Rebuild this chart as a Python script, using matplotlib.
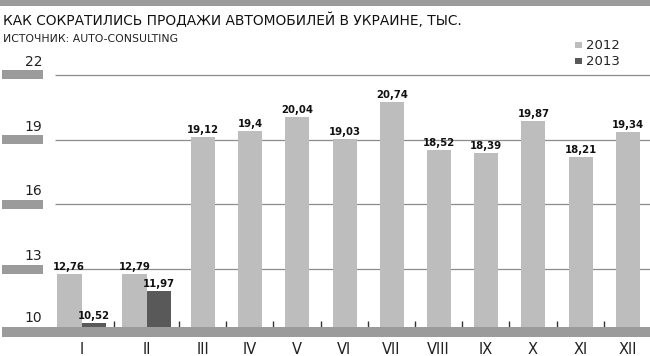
import matplotlib
matplotlib.use("Agg")
import matplotlib.pyplot as plt
from matplotlib.patches import Rectangle

# ── данные ─────────────────────────────────────────────
months = ["I", "II", "III", "IV", "V", "VI", "VII", "VIII", "IX", "X", "XI", "XII"]
sales_2012 = [12.76, 12.79, 19.12, 19.4, 20.04, 19.03, 20.74, 18.52, 18.39, 19.87, 18.21, 19.34]
sales_2013 = [10.52, 11.97]
y_ticks = [10, 13, 16, 19, 22]

TITLE = "КАК СОКРАТИЛИСЬ ПРОДАЖИ АВТОМОБИЛЕЙ В УКРАИНЕ, ТЫС."
SOURCE = "ИСТОЧНИК: AUTO-CONSULTING"

C12 = "#bdbdbd"
C13 = "#595959"
BAND = "#9b9b9b"
GRID = "#8c8c8c"
NARROW = ["Liberation Sans Narrow", "DejaVu Sans"]
BOLD = ["DejaVu Sans"]

# ── геометрия (в пикселях 650x356) ─────────────────────
W, H = 650, 356
BASE_PX = 334          # где значение 10
PX_PER_UNIT = 21.6
Y0 = 10


def fy(py):
    """пиксель по вертикали -> значение по оси y"""
    return Y0 + (BASE_PX - py) / PX_PER_UNIT


def fig_y(py):
    return 1 - py / H


fig = plt.figure(figsize=(W / 100, H / 100), dpi=100)
ax = fig.add_axes([0, 0, 1, 1])
ax.set_xlim(0, W)
ax.set_ylim(fy(H), fy(0))
ax.axis("off")

# верхняя полоса
ax.add_patch(Rectangle((0, fy(6.5)), W, fy(0) - fy(6.5), color=BAND, lw=0, zorder=1))

# сетка + серые плашки слева
unit = 1 / PX_PER_UNIT
for t in y_ticks:
    if t != Y0:
        ax.hlines(t, 55, W, color=GRID, lw=0.9, zorder=1)
        ax.add_patch(Rectangle((2, t - 4.3 * unit), 41, 8.6 * unit, color=BAND, lw=0, zorder=1))
        ax.text(42, t + 6 * unit, str(t), ha="right", va="bottom", fontsize=10,
                family=NARROW, color="#222222")
    else:
        ax.text(42, fy(325), str(t), ha="right", va="bottom", fontsize=10,
                family=NARROW, color="#222222")

# базовая полоса
ax.add_patch(Rectangle((2, fy(336.5)), W, fy(327) - fy(336.5), color=BAND, lw=0, zorder=4))

# столбики
left = 49
bounds = []
for i, m in enumerate(months):
    if i < len(sales_2013):
        gw, off, bw = 65, 8, 24.5
    else:
        gw, off, bw = 47.2, 12, 24
    x12 = left + off
    v = sales_2012[i]
    ax.bar(x12, v - Y0, bw, bottom=Y0, align="edge", color=C12, lw=0, zorder=2)
    ax.text(x12 + bw / 2, v + 2 * unit, f"{v:g}".replace(".", ","), ha="center", va="bottom",
            fontsize=7.3, fontweight="bold", family=BOLD, color="#111111")
    if i < len(sales_2013):
        x13 = x12 + bw
        v2 = sales_2013[i]
        ax.bar(x13, v2 - Y0, bw, bottom=Y0, align="edge", color=C13, lw=0, zorder=2)
        ax.text(x13 + bw / 2, v2 + 2 * unit, f"{v2:g}".replace(".", ","), ha="center",
                va="bottom", fontsize=7.3, fontweight="bold", family=BOLD, color="#111111")
    ax.text(left + gw / 2, fy(349), m, ha="center", va="center", fontsize=10.5,
            family=NARROW, color="#222222")
    left += gw
    if i < len(months) - 1:
        bounds.append(left)

ax.vlines(bounds, fy(327), fy(320.5), color="#333333", lw=1.0, zorder=3)

# заголовок
fig.text(3 / W, fig_y(20), TITLE, ha="left", va="center", fontsize=9.9,
         family=NARROW, color="#111111")
fig.text(3 / W, fig_y(39.5), SOURCE, ha="left", va="center", fontsize=7.8,
         family=NARROW, color="#222222")

# легенда
for py, col, lab in [(45, C12, "2012"), (61, C13, "2013")]:
    ax.add_patch(Rectangle((575, fy(py + 3.3)), 7, 6.6 * unit, color=col, lw=0, zorder=2))
    ax.text(586, fy(py), lab, ha="left", va="center", fontsize=9.5, family=NARROW,
            color="#222222")

fig.savefig("out.png", dpi=100)
